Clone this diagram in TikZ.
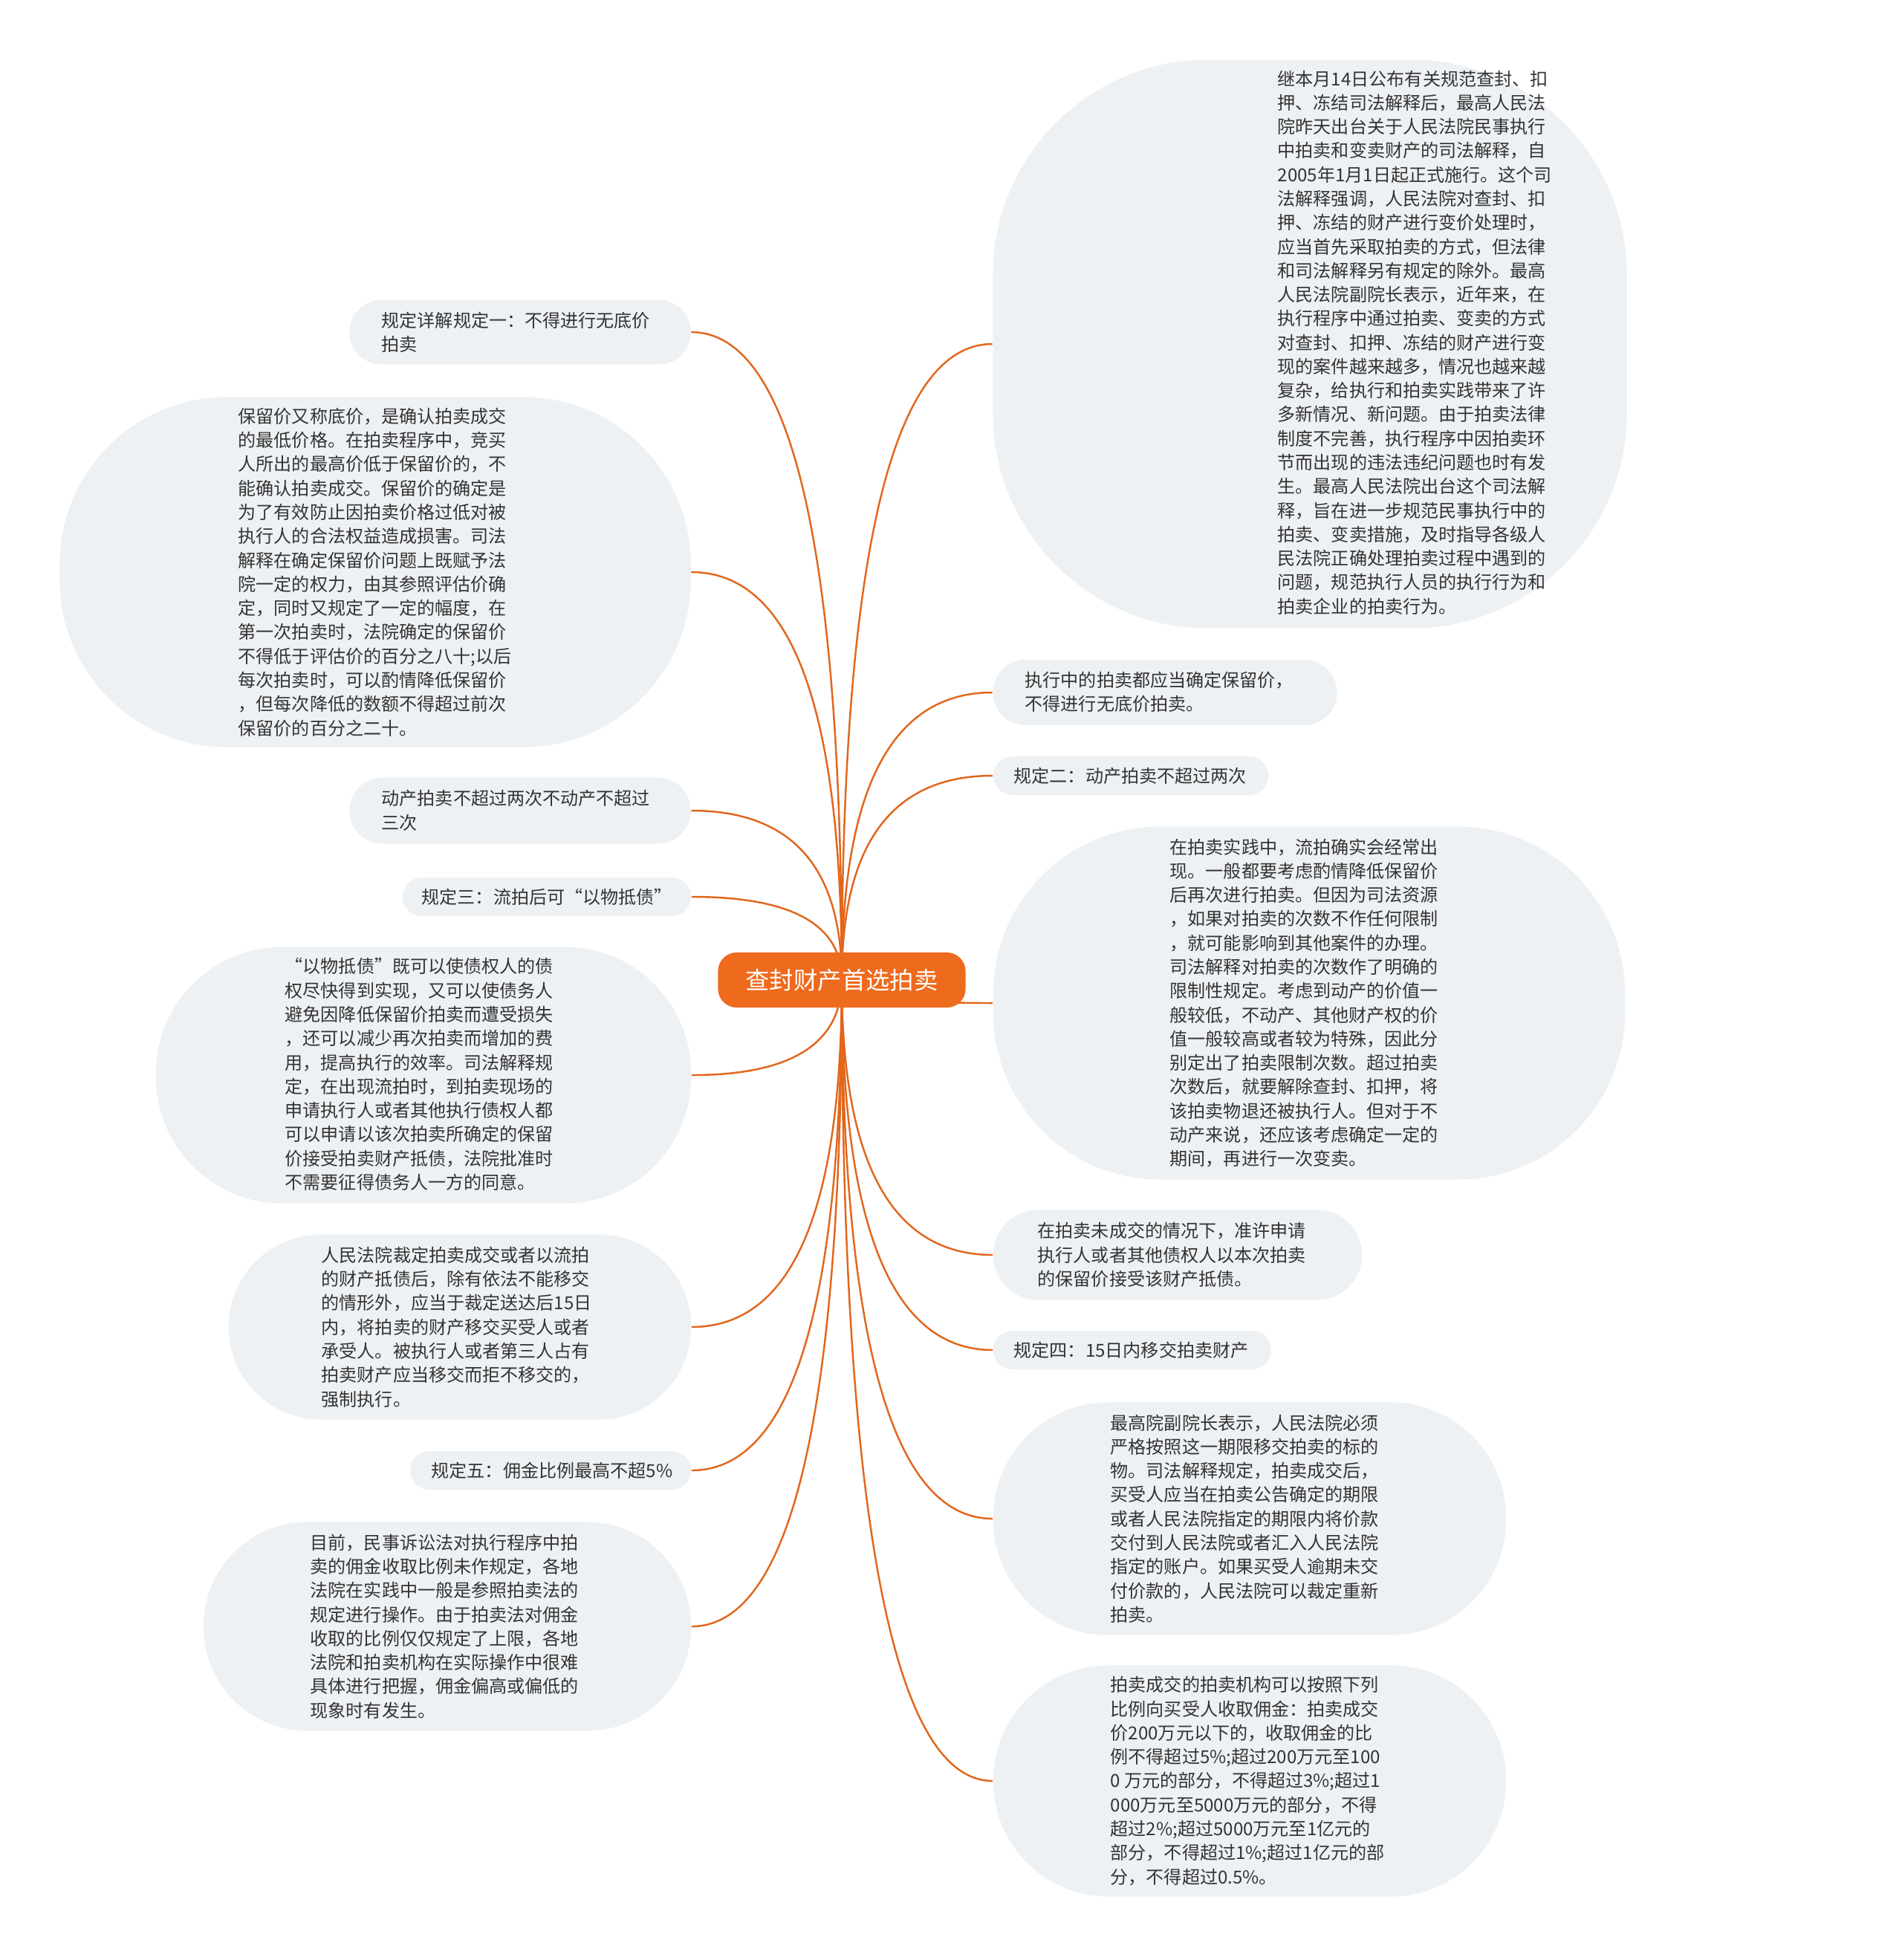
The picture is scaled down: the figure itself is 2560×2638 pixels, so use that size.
\documentclass[tikz,border=0pt]{standalone}
\usepackage{fontspec}
\setmainfont{Noto Sans CJK SC}
\usetikzlibrary{calc}
\definecolor{rootorange}{HTML}{EE6A1D}
\definecolor{linkorange}{HTML}{E2661C}
\definecolor{leafgray}{HTML}{EEF1F4}
\definecolor{inkgray}{HTML}{333333}
\pgfdeclarelayer{bg}
\pgfdeclarelayer{links}
\pgfsetlayers{bg,links,main}

\begin{document}
\begin{tikzpicture}[
    x=0.01cm, y=-0.01cm,
    leaf/.style={fill=leafgray, inner sep=0pt},
    leaftext/.style={anchor=west, inner sep=0pt, align=left, text=inkgray,
        font=\fontsize{6.85pt}{9.18pt}\selectfont},
    rootbox/.style={fill=rootorange, text=white, inner sep=0pt, rounded corners=0.25cm,
        minimum width=3.33cm, minimum height=0.74cm, font=\fontsize{9.2pt}{11pt}\selectfont},
    link/.style={draw=linkorange, line width=0.7pt,
        to path={.. controls ($(\tikztostart)!0.667!(\tikztostart |- \tikztotarget)$)
            and ($(\tikztotarget)!0.667!(\tikztostart |- \tikztotarget)$) .. (\tikztotarget)}}
]
    \useasboundingbox (0,0) rectangle (2560,2638);
    \begin{pgfonlayer}{bg}
        \fill[white] (0,0) rectangle (2560,2638);
    \end{pgfonlayer}

    \node[rootbox] (AUCTION) at (1133,1319) {查封财产首选拍卖};

    % left side
    \node[leaf, minimum width=4.59cm, minimum height=0.87cm, rounded corners=0.43cm] (RULE1) at (700,447) {};
    \node[leaftext] (RULE1-t) at (513,447) {规定详解规定一：不得进行无底价\\拍卖};

    \node[leaf, minimum width=8.49cm, minimum height=4.71cm, rounded corners=2.25cm] (RESERVE) at (505,770) {};
    \node[leaftext] (RESERVE-t) at (320,770) {保留价又称底价，是确认拍卖成交\\的最低价格。在拍卖程序中，竞买\\人所出的最高价低于保留价的，不\\能确认拍卖成交。保留价的确定是\\为了有效防止因拍卖价格过低对被\\执行人的合法权益造成损害。司法\\解释在确定保留价问题上既赋予法\\院一定的权力，由其参照评估价确\\定，同时又规定了一定的幅度，在\\第一次拍卖时，法院确定的保留价\\不得低于评估价的百分之八十;以后\\每次拍卖时，可以酌情降低保留价\\，但每次降低的数额不得超过前次\\保留价的百分之二十。};

    \node[leaf, minimum width=4.59cm, minimum height=0.89cm, rounded corners=0.44cm] (LIMITS) at (700,1091) {};
    \node[leaftext] (LIMITS-t) at (513,1091) {动产拍卖不超过两次不动产不超过\\三次};

    \node[leaf, minimum width=3.88cm, minimum height=0.52cm, rounded corners=0.26cm] (RULE3) at (736,1207) {};
    \node[leaftext] (RULE3-t) at (567,1207) {规定三：流拍后可“以物抵债”};

    \node[leaf, minimum width=7.2cm, minimum height=3.45cm, rounded corners=1.7cm] (OFFSET) at (570,1447) {};
    \node[leaftext] (OFFSET-t) at (383,1446) {“以物抵债”既可以使债权人的债\\权尽快得到实现，又可以使债务人\\避免因降低保留价拍卖而遭受损失\\，还可以减少再次拍卖而增加的费\\用，提高执行的效率。司法解释规\\定，在出现流拍时，到拍卖现场的\\申请执行人或者其他执行债权人都\\可以申请以该次拍卖所确定的保留\\价接受拍卖财产抵债，法院批准时\\不需要征得债务人一方的同意。};

    \node[leaf, minimum width=6.22cm, minimum height=2.49cm, rounded corners=1.24cm] (HANDOVER) at (619,1786) {};
    \node[leaftext] (HANDOVER-t) at (432,1786) {人民法院裁定拍卖成交或者以流拍\\的财产抵债后，除有依法不能移交\\的情形外，应当于裁定送达后15日\\内，将拍卖的财产移交买受人或者\\承受人。被执行人或者第三人占有\\拍卖财产应当移交而拒不移交的，\\强制执行。};

    \node[leaf, minimum width=3.78cm, minimum height=0.52cm, rounded corners=0.26cm] (RULE5) at (741,1979) {};
    \node[leaftext] (RULE5-t) at (580,1979) {规定五：佣金比例最高不超5\%};

    \node[leaf, minimum width=6.56cm, minimum height=2.81cm, rounded corners=1.4cm] (FEEUSE) at (602,2189) {};
    \node[leaftext] (FEEUSE-t) at (417,2189) {目前，民事诉讼法对执行程序中拍\\卖的佣金收取比例未作规定，各地\\法院在实践中一般是参照拍卖法的\\规定进行操作。由于拍卖法对佣金\\收取的比例仅仅规定了上限，各地\\法院和拍卖机构在实际操作中很难\\具体进行把握，佣金偏高或偏低的\\现象时有发生。};

    % right side
    \node[leaf, minimum width=8.53cm, minimum height=7.65cm, rounded corners=2.9cm] (INTRO) at (1763,463) {};
    \node[leaftext] (INTRO-t) at (1719,461) {继本月14日公布有关规范查封、扣\\押、冻结司法解释后，最高人民法\\院昨天出台关于人民法院民事执行\\中拍卖和变卖财产的司法解释，自\\2005年1月1日起正式施行。这个司\\法解释强调，人民法院对查封、扣\\押、冻结的财产进行变价处理时，\\应当首先采取拍卖的方式，但法律\\和司法解释另有规定的除外。最高\\人民法院副院长表示，近年来，在\\执行程序中通过拍卖、变卖的方式\\对查封、扣押、冻结的财产进行变\\现的案件越来越多，情况也越来越\\复杂，给执行和拍卖实践带来了许\\多新情况、新问题。由于拍卖法律\\制度不完善，执行程序中因拍卖环\\节而出现的违法违纪问题也时有发\\生。最高人民法院出台这个司法解\\释，旨在进一步规范民事执行中的\\拍卖、变卖措施，及时指导各级人\\民法院正确处理拍卖过程中遇到的\\问题，规范执行人员的执行行为和\\拍卖企业的拍卖行为。};

    \node[leaf, minimum width=4.63cm, minimum height=0.88cm, rounded corners=0.44cm] (NOFLOOR) at (1568,932) {};
    \node[leaftext] (NOFLOOR-t) at (1379,931) {执行中的拍卖都应当确定保留价，\\不得进行无底价拍卖。};

    \node[leaf, minimum width=3.7cm, minimum height=0.52cm, rounded corners=0.26cm] (RULE2) at (1522,1044) {};
    \node[leaftext] (RULE2-t) at (1364,1044) {规定二：动产拍卖不超过两次};

    \node[leaf, minimum width=8.5cm, minimum height=4.75cm, rounded corners=2.25cm] (TIMES) at (1762,1350) {};
    \node[leaftext] (TIMES-t) at (1574,1350) {在拍卖实践中，流拍确实会经常出\\现。一般都要考虑酌情降低保留价\\后再次进行拍卖。但因为司法资源\\，如果对拍卖的次数不作任何限制\\，就可能影响到其他案件的办理。\\司法解释对拍卖的次数作了明确的\\限制性规定。考虑到动产的价值一\\般较低，不动产、其他财产权的价\\值一般较高或者较为特殊，因此分\\别定出了拍卖限制次数。超过拍卖\\次数后，就要解除查封、扣押，将\\该拍卖物退还被执行人。但对于不\\动产来说，还应该考虑确定一定的\\期间，再进行一次变卖。};

    \node[leaf, minimum width=4.96cm, minimum height=1.21cm, rounded corners=0.6cm] (UNSOLD) at (1585,1689) {};
    \node[leaftext] (UNSOLD-t) at (1396,1689) {在拍卖未成交的情况下，准许申请\\执行人或者其他债权人以本次拍卖\\的保留价接受该财产抵债。};

    \node[leaf, minimum width=3.74cm, minimum height=0.52cm, rounded corners=0.26cm] (RULE4) at (1524,1817) {};
    \node[leaftext] (RULE4-t) at (1364,1817) {规定四：15日内移交拍卖财产};

    \node[leaf, minimum width=6.9cm, minimum height=3.13cm, rounded corners=1.55cm] (PAYMENT) at (1682,2044) {};
    \node[leaftext] (PAYMENT-t) at (1494,2044) {最高院副院长表示，人民法院必须\\严格按照这一期限移交拍卖的标的\\物。司法解释规定，拍卖成交后，\\买受人应当在拍卖公告确定的期限\\或者人民法院指定的期限内将价款\\交付到人民法院或者汇入人民法院\\指定的账户。如果买受人逾期未交\\付价款的，人民法院可以裁定重新\\拍卖。};

    \node[leaf, minimum width=6.9cm, minimum height=3.11cm, rounded corners=1.55cm] (FEERATES) at (1682,2397) {};
    \node[leaftext] (FEERATES-t) at (1494,2397) {拍卖成交的拍卖机构可以按照下列\\比例向买受人收取佣金：拍卖成交\\价200万元以下的，收取佣金的比\\例不得超过5\%;超过200万元至100\\0 万元的部分，不得超过3\%;超过1\\000万元至5000万元的部分，不得\\超过2\%;超过5000万元至1亿元的\\部分，不得超过1\%;超过1亿元的部\\分，不得超过0.5\%。};

    \begin{pgfonlayer}{links}
    \path (AUCTION.center) edge[link] (RULE1.east)
          (AUCTION.center) edge[link] (RESERVE.east)
          (AUCTION.center) edge[link] (LIMITS.east)
          (AUCTION.center) edge[link] (RULE3.east)
          (AUCTION.center) edge[link] (OFFSET.east)
          (AUCTION.center) edge[link] (HANDOVER.east)
          (AUCTION.center) edge[link] (RULE5.east)
          (AUCTION.center) edge[link] (FEEUSE.east);
    \path (AUCTION.center) edge[link] (INTRO.west)
          (AUCTION.center) edge[link] (NOFLOOR.west)
          (AUCTION.center) edge[link] (RULE2.west)
          (AUCTION.center) edge[link] (TIMES.west)
          (AUCTION.center) edge[link] (UNSOLD.west)
          (AUCTION.center) edge[link] (RULE4.west)
          (AUCTION.center) edge[link] (PAYMENT.west)
          (AUCTION.center) edge[link] (FEERATES.west);
    \end{pgfonlayer}
\end{tikzpicture}
\end{document}
